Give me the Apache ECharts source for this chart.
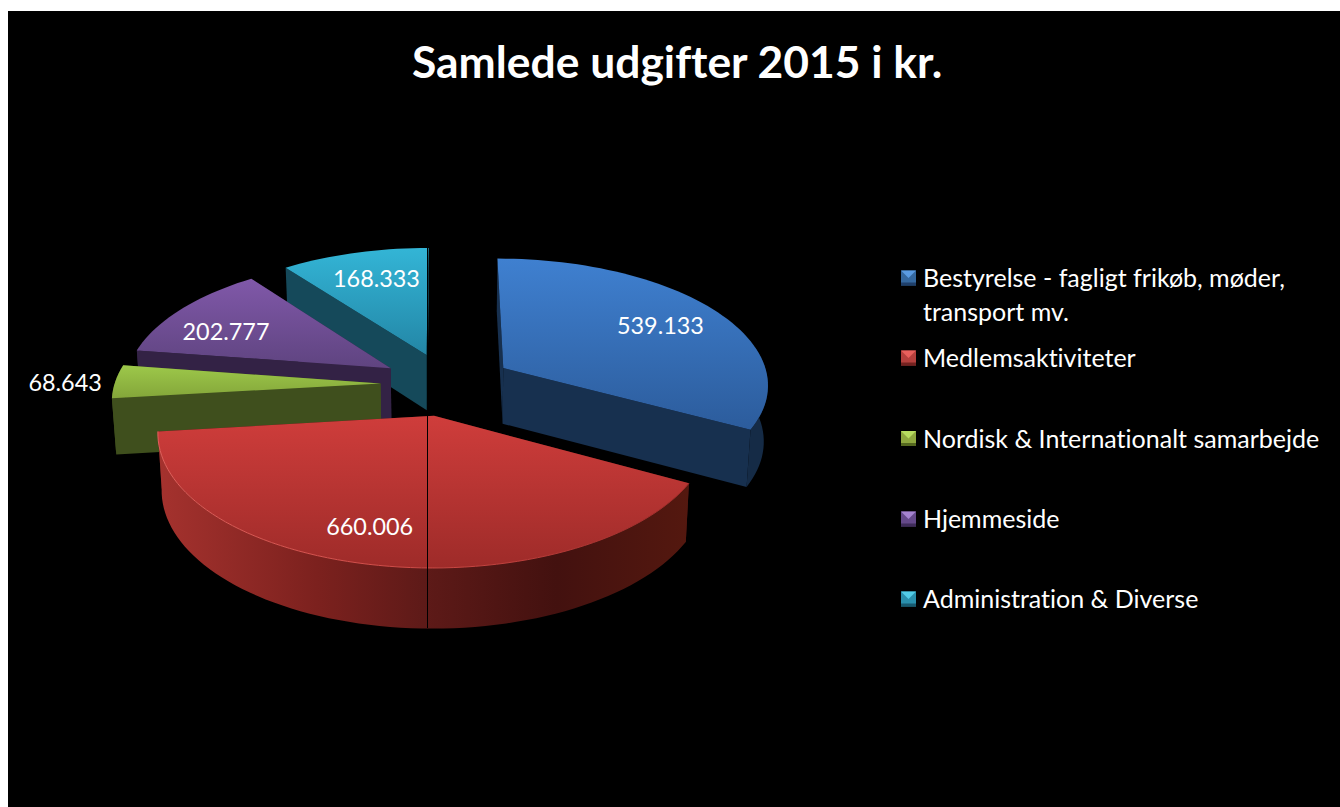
<!DOCTYPE html>
<html>
<head>
<meta charset="utf-8">
<title>Samlede udgifter 2015</title>
<script src="https://cdn.jsdelivr.net/npm/echarts@6/dist/echarts.min.js"></script>
<style>
	html,body{margin:0;padding:0;background:#fff;overflow:hidden;}
	#chart{position:absolute;left:8px;top:11px;width:1332px;height:796px;}
	#chart text{font-variant-ligatures:none !important;}
</style>
</head>
<body>
<div id="chart"></div>
<script>
	const titleText = 'Samlede udgifter 2015 i kr.'
	const categories = ['Bestyrelse - fagligt frikøb, møder,\ntransport mv.', 'Medlemsaktiviteter', 'Nordisk & Internationalt samarbejde', 'Hjemmeside', 'Administration & Diverse']
	const values = [539133, 660006, 68643, 202777, 168333]
	const valueLabels = ['539.133', '660.006', '68.643', '202.777', '168.333']

	// farver: top lys, top mork, sidevaeg
	const topLight = ['#3f80d0', '#cf3d3b', '#9dc84a', '#8058a9', '#33b5d6']
	const topDark = ['#2c5c9c', '#9e2b29', '#84a63a', '#5f4480', '#2386a6']
	const wallColor = ['#17304f', '#4a1513', '#3f4f1d', '#332245', '#15495a']
	const rimColor = ['#152b46', '#4a1513', '#3f4f1d', '#332245', '#15495a']
	const legendLight = ['#5a9be2', '#e8605c', '#b8dc60', '#a583d0', '#52cde8']
	const legendMid = ['#35689f', '#b5403d', '#8fa83f', '#65498a', '#2a90ad']
	const legendDark = ['#1f3f6a', '#742220', '#55681f', '#3f2c5a', '#175a70']

	// projektion af pie-skiven, i chart-koordinater
	const cx = 439, cy = 373, rx = 266, ry = 126, persp = 0.118
	const explode = 0.25, depth = 56, bottomShrink = 0.987
	const labelRadius = [0.73, 0.755, 1.186, 0.625, 0.745]
	const labelNudgeX = [2, -20, -1, -31, 5]

	const total = values.reduce((a, b) => a + b, 0)
	const angles = []
	let acc = 0
	values.forEach(v => {
		angles.push([acc / total * 360, (acc + v) / total * 360])
		acc += v
	})
	const rad = d => d * Math.PI / 180

	function project(X, Z) {
		const s = 1 / (1 + persp * Z)
		return [cx + X * rx * s, cy - Z * ry * s, s]
	}
	function slicePoint(i, deg, r) {
		const mid = rad((angles[i][0] + angles[i][1]) / 2)
		const X = explode * Math.sin(mid) + r * Math.sin(rad(deg))
		const Z = explode * Math.cos(mid) + r * Math.cos(rad(deg))
		return project(X, Z)
	}
	function lower(p) {
		return [cx + (p[0] - cx) * bottomShrink, p[1] + depth * Math.sqrt(p[2])]
	}
	function arc(i, from, to) {
		const pts = []
		const n = Math.max(2, Math.ceil((to - from) / 2))
		for (let k = 0; k <= n; k++) pts.push(slicePoint(i, from + (to - from) * k / n, 1))
		return pts
	}
	const xy = p => [p[0], p[1]]

	function vGrad(a, b) {
		return new echarts.graphic.LinearGradient(0, 0, 0, 1, [{offset: 0, color: a}, {offset: 1, color: b}])
	}
	const redWall = new echarts.graphic.LinearGradient(0, 0, 1, 0, [
		{offset: 0, color: '#a5322e'},
		{offset: 0.3, color: '#7c211e'},
		{offset: 0.5, color: '#5e1a18'},
		{offset: 0.75, color: '#43110f'},
		{offset: 1, color: '#54180f'}
	])
	const redBevel = new echarts.graphic.LinearGradient(0, 0, 1, 0, [
		{offset: 0, color: '#e0615c'},
		{offset: 0.5, color: '#cf4a46'},
		{offset: 1, color: '#9c2b28'}
	])

	function wallShape(apex, rim, color) {
		return {
			type: 'polygon',
			shape: {points: [xy(apex), xy(rim), lower(rim), lower(apex)]},
			style: {fill: color}
		}
	}

	function renderSlice(params, api) {
		const i = api.value(1)
		const a0 = angles[i][0], a1 = angles[i][1]
		const apex = slicePoint(i, a0, 0)
		const rimA = slicePoint(i, a0, 1)
		const rimB = slicePoint(i, a1, 1)
		const rim = arc(i, a0, a1)
		const children = []
		const startFront = Math.sin(rad(a0)) < -0.001
		const endFront = Math.sin(rad(a1)) > 0.001

		if (!startFront) children.push(wallShape(apex, rimA, wallColor[i]))
		if (!endFront) children.push(wallShape(apex, rimB, wallColor[i]))

		// yderkant, kun den del der vender frem
		const f0 = Math.max(a0, 80), f1 = Math.min(a1, 280)
		if (f1 > f0) {
			const front = arc(i, f0, f1)
			children.push({
				type: 'polygon',
				shape: {points: front.map(xy).concat(front.slice().reverse().map(lower))},
				style: {fill: i === 1 ? redWall : rimColor[i]}
			})
		}
		if (startFront) children.push(wallShape(apex, rimA, wallColor[i]))
		if (endFront) children.push(wallShape(apex, rimB, wallColor[i]))

		children.push({
			type: 'polygon',
			shape: {points: [xy(apex)].concat(rim.map(xy))},
			style: {fill: vGrad(topLight[i], topDark[i])}
		})
		if (i === 1) {
			children.push({
				type: 'polyline',
				shape: {points: rim.map(xy)},
				style: {fill: 'none', stroke: redBevel, lineWidth: 1}
			})
		}

		const mid = (a0 + a1) / 2
		const lp = slicePoint(i, mid, labelRadius[i])
		children.push({
			type: 'text',
			z2: 20,
			style: {
				x: lp[0] + labelNudgeX[i], y: lp[1] + 1,
				text: valueLabels[i],
				fill: '#fff', font: '23.4px Lato',
				align: 'center', verticalAlign: 'middle'
			}
		})
		return {type: 'group', children: children}
	}

	// tegnes bagfra og frem
	const drawOrder = values.map((v, i) => i).sort((a, b) => {
		const m = k => Math.cos(rad((angles[k][0] + angles[k][1]) / 2))
		return m(b) - m(a)
	})

	function legendGraphics() {
		const items = []
		const rows = [267, 347, 427.5, 508, 588]
		const lx = 893, size = 15
		categories.forEach((name, i) => {
			const y = rows[i] - size / 2
			const x = lx
			const c = [x + size / 2, y + size / 2]
			const b = 3
			items.push({type: 'rect', shape: {x, y, width: size, height: size}, style: {fill: legendMid[i]}})
			items.push({type: 'polygon', shape: {points: [[x, y], [x + size, y], c]}, style: {fill: legendLight[i]}})
			items.push({type: 'rect', shape: {x, y: y + size - b, width: size, height: b}, style: {fill: legendDark[i]}})
			items.push({
				type: 'text',
				style: {
					x: lx + 22, y: rows[i] - 18,
					text: name, fill: '#fff', font: '25px Lato',
					lineHeight: 34, verticalAlign: 'top'
				}
			})
		})
		// den sorte lodrette streg gennem skiven
		items.push({
			type: 'line', z: 50,
			shape: {x1: 419.5, y1: 237, x2: 419.5, y2: 617},
			style: {stroke: '#000', lineWidth: 1}
		})
		return items
	}

	const myChart = echarts.init(document.getElementById('chart'), null, {renderer: 'svg'})
	myChart.setOption({
		backgroundColor: '#000',
		animation: false,
		title: {
			text: titleText,
			left: 399, top: 22,
			textStyle: {color: '#fff', fontSize: 44.4, fontWeight: 'bold', fontFamily: 'Lato'}
		},
		graphic: {elements: legendGraphics()},
		series: [{
			type: 'custom',
			coordinateSystem: 'none',
			renderItem: renderSlice,
			data: drawOrder.map(i => [values[i], i])
		}]
	})
</script>
</body>
</html>
